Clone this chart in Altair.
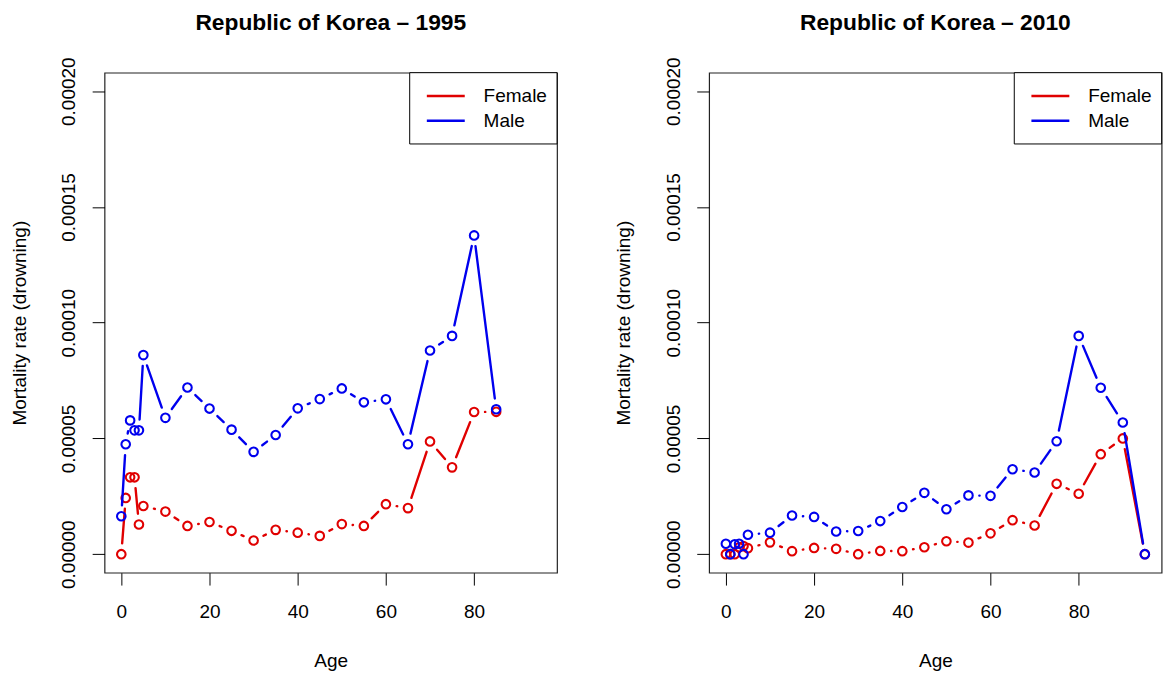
import math
import altair as alt
import pandas as pd

# ---------------- data (mortality rate in units of 1e-5) ----------------
ages_1995 = [0, 1, 2, 3, 4, 5, 10, 15, 20, 25, 30, 35, 40, 45, 50, 55, 60, 65, 70, 75, 80, 85]
female_1995 = [0.00, 2.43, 3.32, 3.32, 1.28, 2.08, 1.84, 1.22, 1.39, 1.01, 0.59, 1.05,
               0.93, 0.79, 1.30, 1.22, 2.16, 1.99, 4.87, 3.75, 6.14, 6.15]
male_1995 = [1.64, 4.75, 5.78, 5.35, 5.35, 8.60, 5.89, 7.20, 6.29, 5.38, 4.42, 5.15,
             6.30, 6.70, 7.16, 6.56, 6.69, 4.75, 8.80, 9.43, 13.77, 6.26]

ages_2010 = [0, 1, 2, 3, 4, 5, 10, 15, 20, 25, 30, 35, 40, 45, 50, 55, 60, 65, 70, 75, 80, 85, 90, 95]
female_2010 = [0.00, 0.00, 0.00, 0.30, 0.35, 0.26, 0.51, 0.13, 0.27, 0.23, 0.00, 0.14,
               0.13, 0.30, 0.56, 0.50, 0.90, 1.47, 1.24, 3.04, 2.61, 4.32, 5.00, 0.00]
male_2010 = [0.45, 0.00, 0.43, 0.45, 0.00, 0.84, 0.93, 1.67, 1.61, 0.98, 1.00, 1.43,
             2.04, 2.65, 1.94, 2.54, 2.52, 3.67, 3.53, 4.88, 9.43, 7.19, 5.69, 0.00]

legend_labels = ["Female", "Male"]
x_ticks = [0, 20, 40, 60, 80]
y_ticks = [0.0, 0.00005, 0.0001, 0.00015, 0.0002]
titles = ["Republic of Korea \u2013 1995", "Republic of Korea \u2013 2010"]

# ---------------- style ----------------
PLOT_W = 457
PLOT_H = 505
X_DOMAIN = [-3.8, 98.8]
Y_DOMAIN = [-0.000008, 0.000208]
RED = "#E00000"
BLUE = "#0000EE"
FONT = "Liberation Sans"
FS = 19.2
GAP = 11.0  # R type="b" gap around points (px)

SX = PLOT_W / (X_DOMAIN[1] - X_DOMAIN[0])
SY = PLOT_H / (Y_DOMAIN[1] - Y_DOMAIN[0])


def gap_segments(ages, vals, d=GAP):
    segs = []
    for i in range(len(ages) - 1):
        ax, ay, bx, by = ages[i], vals[i], ages[i + 1], vals[i + 1]
        f = math.hypot((bx - ax) * SX, (by - ay) * SY)
        if f > 2 * d:
            t = d / f
            segs.append({"x": ax + t * (bx - ax), "y": ay + t * (by - ay),
                         "x2": bx - t * (bx - ax), "y2": by - t * (by - ay)})
    return pd.DataFrame(segs, columns=["x", "y", "x2", "y2"])


x_scale = alt.Scale(domain=X_DOMAIN, nice=False, zero=False)
y_scale = alt.Scale(domain=Y_DOMAIN, nice=False, zero=False)

x_axis = alt.Axis(values=x_ticks, format="d", tickSize=12.5, tickColor="black", tickWidth=1,
                  domain=False, grid=False, labelFont=FONT, labelFontSize=FS, labelColor="black",
                  labelBaseline="alphabetic", labelPadding=32.5, labelFlush=False, labelOverlap=False,
                  titleFont=FONT, titleFontSize=FS, titleFontWeight="normal", titleColor="black",
                  titleX=PLOT_W / 2, titleY=95, titleBaseline="alphabetic", titleAlign="center")
y_axis = alt.Axis(values=y_ticks, format=".5f", tickSize=12.5, tickColor="black", tickWidth=1,
                  domain=False, grid=False, labelFont=FONT, labelFontSize=FS, labelColor="black",
                  labelAngle=270, labelAlign="center", labelBaseline="alphabetic", labelPadding=17.5,
                  labelFlush=False, labelOverlap=False,
                  titleFont=FONT, titleFontSize=FS, titleFontWeight="normal", titleColor="black",
                  titleAngle=270, titleX=-80, titleY=PLOT_H / 2, titleBaseline="alphabetic",
                  titleAlign="center")

X_TITLE = "Age"
Y_TITLE = "Mortality rate (drowning)"

LEG_X0 = 308.2
LEG_H = 72
LEG_LINE = (325.5, 363.8)
LEG_TEXT_X = 382.8
LEG_ROW0 = 23.6
LEG_DY = 25

one_row = pd.DataFrame({"k": [0]})


def panel(title, ages, female, male):
    layers = []
    for vals, color in ((female, RED), (male, BLUE)):
        rates = [v * 1e-5 for v in vals]
        pts = pd.DataFrame({"age": ages, "rate": rates})
        segs = gap_segments(ages, rates)
        rule = alt.Chart(segs).mark_rule(color=color, strokeWidth=2.4, strokeCap="round").encode(
            x=alt.X("x:Q", scale=x_scale, axis=x_axis, title=X_TITLE),
            y=alt.Y("y:Q", scale=y_scale, axis=y_axis, title=Y_TITLE),
            x2="x2:Q", y2="y2:Q")
        point = alt.Chart(pts).mark_point(shape="circle", filled=False, color=color, size=75,
                                          strokeWidth=2.1, opacity=1).encode(
            x=alt.X("age:Q", scale=x_scale, axis=x_axis, title=X_TITLE),
            y=alt.Y("rate:Q", scale=y_scale, axis=y_axis, title=Y_TITLE))
        layers += [rule, point]

    box = alt.Chart(one_row).mark_rect(fill="white", stroke="black", strokeWidth=1).encode(
        x=alt.value(LEG_X0), x2=alt.value(PLOT_W), y=alt.value(0), y2=alt.value(LEG_H))
    layers.append(box)
    for i, (lab, color) in enumerate(zip(legend_labels, (RED, BLUE))):
        yy = LEG_ROW0 + i * LEG_DY
        layers.append(alt.Chart(one_row).mark_rule(color=color, strokeWidth=2.4).encode(
            x=alt.value(LEG_LINE[0]), x2=alt.value(LEG_LINE[1]), y=alt.value(yy)))
        layers.append(alt.Chart(one_row).mark_text(text=lab, font=FONT, fontSize=FS, color="black",
                                                   align="left", baseline="middle").encode(
            x=alt.value(LEG_TEXT_X), y=alt.value(yy)))

    return alt.layer(*layers).properties(
        width=PLOT_W, height=PLOT_H,
        title=alt.TitleParams(title, font=FONT, fontSize=23, fontWeight="bold", color="black",
                              anchor="middle", frame="group", baseline="alphabetic", offset=4))


left = panel(titles[0], ages_1995, female_1995, male_1995)
right = panel(titles[1], ages_2010, female_2010, male_2010)

chart = alt.hconcat(left, right, spacing=55.6).properties(
    padding={"left": 1.5, "top": 0, "right": 0, "bottom": 0},
    background="white",
).configure_view(stroke="#222222", strokeWidth=1.2)

chart.save("out.html", embed_options={"renderer": "svg", "actions": False})
